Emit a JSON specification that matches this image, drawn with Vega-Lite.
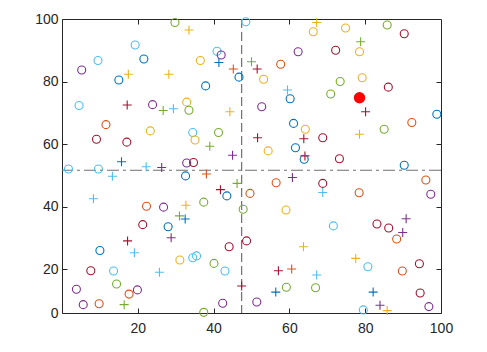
{
  "$schema": "https://vega.github.io/schema/vega-lite/v6.json",
  "width": 379,
  "height": 294,
  "autosize": {"type": "none"},
  "padding": {"left": 62, "top": 19, "right": 46, "bottom": 39},
  "background": "white",
  "config": {
    "view": {"stroke": "#262626", "strokeWidth": 1},
    "axis": {
      "domain": false,
      "grid": false,
      "tickColor": "#262626",
      "tickSize": -5,
      "tickWidth": 1,
      "labelFont": "Liberation Sans",
      "labelFontSize": 14,
      "labelColor": "#262626",
      "labelFlush": false,
      "labelOverlap": false,
      "title": null
    }
  },
  "datasets": {
    "pts": [
      {"x": 29.8, "y": 98.9, "g": "E", "m": "o"},
      {"x": 33.5, "y": 96.5, "g": "C", "m": "+"},
      {"x": 48.5, "y": 99.1, "g": "F", "m": "o"},
      {"x": 19.3, "y": 91.7, "g": "F", "m": "o"},
      {"x": 9.5, "y": 86.7, "g": "F", "m": "o"},
      {"x": 5.2, "y": 83.7, "g": "D", "m": "o"},
      {"x": 21.6, "y": 87.2, "g": "A", "m": "o"},
      {"x": 36.5, "y": 86.7, "g": "C", "m": "o"},
      {"x": 40.9, "y": 89.7, "g": "F", "m": "o"},
      {"x": 42.0, "y": 88.5, "g": "D", "m": "o"},
      {"x": 41.4, "y": 86.1, "g": "A", "m": "+"},
      {"x": 45.2, "y": 84.0, "g": "B", "m": "+"},
      {"x": 46.7, "y": 81.4, "g": "A", "m": "o"},
      {"x": 15.0, "y": 80.5, "g": "A", "m": "o"},
      {"x": 17.5, "y": 82.3, "g": "C", "m": "+"},
      {"x": 28.2, "y": 82.3, "g": "C", "m": "+"},
      {"x": 37.9, "y": 78.6, "g": "A", "m": "o"},
      {"x": 4.5, "y": 72.3, "g": "F", "m": "o"},
      {"x": 17.2, "y": 72.5, "g": "G", "m": "+"},
      {"x": 23.9, "y": 72.6, "g": "D", "m": "o"},
      {"x": 26.7, "y": 70.7, "g": "E", "m": "+"},
      {"x": 29.4, "y": 71.3, "g": "F", "m": "+"},
      {"x": 32.9, "y": 73.4, "g": "C", "m": "o"},
      {"x": 33.5, "y": 70.8, "g": "E", "m": "o"},
      {"x": 44.3, "y": 70.3, "g": "C", "m": "+"},
      {"x": 11.6, "y": 66.2, "g": "B", "m": "o"},
      {"x": 9.1, "y": 61.5, "g": "G", "m": "o"},
      {"x": 17.1, "y": 60.6, "g": "G", "m": "o"},
      {"x": 23.3, "y": 64.2, "g": "C", "m": "o"},
      {"x": 34.5, "y": 63.7, "g": "F", "m": "o"},
      {"x": 35.1, "y": 61.3, "g": "C", "m": "o"},
      {"x": 41.3, "y": 63.7, "g": "E", "m": "o"},
      {"x": 39.0, "y": 59.3, "g": "E", "m": "+"},
      {"x": 45.0, "y": 56.4, "g": "D", "m": "+"},
      {"x": 15.7, "y": 54.3, "g": "A", "m": "+"},
      {"x": 32.9, "y": 53.9, "g": "D", "m": "o"},
      {"x": 34.7, "y": 54.1, "g": "G", "m": "o"},
      {"x": 1.7, "y": 52.0, "g": "F", "m": "o"},
      {"x": 9.6, "y": 52.0, "g": "F", "m": "o"},
      {"x": 22.2, "y": 52.7, "g": "F", "m": "+"},
      {"x": 26.3, "y": 52.5, "g": "D", "m": "+"},
      {"x": 13.3, "y": 49.7, "g": "F", "m": "+"},
      {"x": 32.6, "y": 49.8, "g": "A", "m": "o"},
      {"x": 38.1, "y": 50.4, "g": "B", "m": "+"},
      {"x": 46.2, "y": 47.4, "g": "E", "m": "+"},
      {"x": 67.2, "y": 98.9, "g": "C", "m": "+"},
      {"x": 66.3, "y": 95.9, "g": "C", "m": "o"},
      {"x": 74.8, "y": 97.1, "g": "C", "m": "o"},
      {"x": 85.8, "y": 98.1, "g": "E", "m": "o"},
      {"x": 90.3, "y": 95.3, "g": "G", "m": "o"},
      {"x": 78.8, "y": 92.7, "g": "E", "m": "+"},
      {"x": 78.5, "y": 89.5, "g": "C", "m": "o"},
      {"x": 62.3, "y": 89.5, "g": "D", "m": "o"},
      {"x": 72.2, "y": 90.0, "g": "G", "m": "o"},
      {"x": 50.0, "y": 86.3, "g": "E", "m": "+"},
      {"x": 51.5, "y": 84.0, "g": "G", "m": "+"},
      {"x": 57.7, "y": 85.5, "g": "B", "m": "o"},
      {"x": 53.2, "y": 80.7, "g": "C", "m": "o"},
      {"x": 73.4, "y": 80.0, "g": "E", "m": "o"},
      {"x": 79.2, "y": 81.2, "g": "C", "m": "o"},
      {"x": 86.1, "y": 78.2, "g": "G", "m": "o"},
      {"x": 59.5, "y": 77.3, "g": "F", "m": "+"},
      {"x": 60.2, "y": 74.5, "g": "A", "m": "o"},
      {"x": 70.9, "y": 76.0, "g": "E", "m": "o"},
      {"x": 52.7, "y": 71.9, "g": "D", "m": "o"},
      {"x": 80.1, "y": 70.3, "g": "G", "m": "+"},
      {"x": 98.9, "y": 69.5, "g": "A", "m": "o"},
      {"x": 92.3, "y": 66.9, "g": "B", "m": "o"},
      {"x": 61.1, "y": 66.6, "g": "A", "m": "o"},
      {"x": 64.2, "y": 64.7, "g": "C", "m": "o"},
      {"x": 85.0, "y": 64.7, "g": "E", "m": "o"},
      {"x": 51.6, "y": 62.0, "g": "G", "m": "+"},
      {"x": 63.8, "y": 61.7, "g": "G", "m": "+"},
      {"x": 68.8, "y": 62.0, "g": "G", "m": "o"},
      {"x": 78.5, "y": 63.1, "g": "C", "m": "+"},
      {"x": 54.4, "y": 57.8, "g": "C", "m": "o"},
      {"x": 61.6, "y": 58.8, "g": "A", "m": "o"},
      {"x": 64.1, "y": 56.2, "g": "G", "m": "+"},
      {"x": 63.9, "y": 55.1, "g": "A", "m": "o"},
      {"x": 73.2, "y": 55.3, "g": "G", "m": "o"},
      {"x": 90.3, "y": 53.2, "g": "A", "m": "o"},
      {"x": 8.3, "y": 42.5, "g": "F", "m": "+"},
      {"x": 41.8, "y": 45.4, "g": "G", "m": "+"},
      {"x": 43.5, "y": 43.4, "g": "A", "m": "o"},
      {"x": 32.7, "y": 40.4, "g": "C", "m": "+"},
      {"x": 37.4, "y": 41.4, "g": "E", "m": "o"},
      {"x": 22.3, "y": 40.1, "g": "B", "m": "o"},
      {"x": 26.8, "y": 39.8, "g": "D", "m": "o"},
      {"x": 47.8, "y": 39.1, "g": "E", "m": "o"},
      {"x": 21.3, "y": 34.2, "g": "G", "m": "o"},
      {"x": 28.0, "y": 33.5, "g": "A", "m": "o"},
      {"x": 31.0, "y": 37.0, "g": "E", "m": "+"},
      {"x": 32.5, "y": 36.0, "g": "A", "m": "+"},
      {"x": 17.3, "y": 29.0, "g": "G", "m": "+"},
      {"x": 28.8, "y": 30.0, "g": "D", "m": "+"},
      {"x": 48.7, "y": 29.0, "g": "G", "m": "o"},
      {"x": 10.0, "y": 25.9, "g": "A", "m": "o"},
      {"x": 19.1, "y": 25.2, "g": "F", "m": "+"},
      {"x": 44.1, "y": 27.1, "g": "G", "m": "o"},
      {"x": 31.1, "y": 22.9, "g": "C", "m": "o"},
      {"x": 34.5, "y": 23.6, "g": "F", "m": "o"},
      {"x": 35.5, "y": 24.2, "g": "F", "m": "o"},
      {"x": 40.1, "y": 21.8, "g": "E", "m": "o"},
      {"x": 7.6, "y": 19.2, "g": "G", "m": "o"},
      {"x": 13.6, "y": 19.1, "g": "F", "m": "o"},
      {"x": 25.7, "y": 18.5, "g": "F", "m": "+"},
      {"x": 43.0, "y": 19.1, "g": "F", "m": "o"},
      {"x": 14.4, "y": 13.2, "g": "E", "m": "o"},
      {"x": 3.8, "y": 10.8, "g": "D", "m": "o"},
      {"x": 17.7, "y": 8.6, "g": "B", "m": "o"},
      {"x": 19.9, "y": 10.5, "g": "D", "m": "o"},
      {"x": 47.4, "y": 12.3, "g": "G", "m": "+"},
      {"x": 5.6, "y": 3.8, "g": "D", "m": "o"},
      {"x": 9.8, "y": 4.2, "g": "B", "m": "o"},
      {"x": 16.4, "y": 3.8, "g": "E", "m": "+"},
      {"x": 37.4, "y": 0.3, "g": "E", "m": "o"},
      {"x": 42.4, "y": 4.4, "g": "D", "m": "o"},
      {"x": 49.6, "y": 44.2, "g": "B", "m": "o"},
      {"x": 60.8, "y": 49.3, "g": "D", "m": "+"},
      {"x": 56.5, "y": 47.6, "g": "B", "m": "o"},
      {"x": 68.8, "y": 47.4, "g": "G", "m": "o"},
      {"x": 68.8, "y": 44.5, "g": "F", "m": "+"},
      {"x": 78.4, "y": 44.4, "g": "B", "m": "o"},
      {"x": 96.0, "y": 48.5, "g": "B", "m": "o"},
      {"x": 97.3, "y": 43.9, "g": "D", "m": "o"},
      {"x": 59.1, "y": 38.9, "g": "C", "m": "o"},
      {"x": 71.6, "y": 33.8, "g": "F", "m": "o"},
      {"x": 83.1, "y": 34.4, "g": "G", "m": "o"},
      {"x": 86.2, "y": 33.1, "g": "G", "m": "o"},
      {"x": 90.8, "y": 36.1, "g": "D", "m": "+"},
      {"x": 89.9, "y": 31.7, "g": "D", "m": "+"},
      {"x": 88.3, "y": 29.6, "g": "B", "m": "o"},
      {"x": 63.7, "y": 27.1, "g": "C", "m": "+"},
      {"x": 77.5, "y": 23.4, "g": "C", "m": "+"},
      {"x": 80.7, "y": 20.7, "g": "F", "m": "o"},
      {"x": 57.1, "y": 19.2, "g": "G", "m": "+"},
      {"x": 60.6, "y": 20.0, "g": "B", "m": "+"},
      {"x": 67.2, "y": 17.3, "g": "F", "m": "+"},
      {"x": 89.8, "y": 19.1, "g": "B", "m": "o"},
      {"x": 94.3, "y": 21.7, "g": "G", "m": "o"},
      {"x": 56.4, "y": 9.5, "g": "A", "m": "+"},
      {"x": 59.2, "y": 11.7, "g": "E", "m": "o"},
      {"x": 66.9, "y": 11.5, "g": "E", "m": "o"},
      {"x": 82.1, "y": 9.5, "g": "A", "m": "+"},
      {"x": 94.5, "y": 9.1, "g": "G", "m": "o"},
      {"x": 51.4, "y": 5.0, "g": "D", "m": "o"},
      {"x": 79.5, "y": 1.4, "g": "F", "m": "o"},
      {"x": 83.9, "y": 3.5, "g": "D", "m": "+"},
      {"x": 85.8, "y": 1.1, "g": "C", "m": "+"},
      {"x": 96.8, "y": 2.9, "g": "D", "m": "o"}
    ],
    "target": [{"x": 78.5, "y": 74.8}],
    "vline": [{"x": 47.4}],
    "hline": [{"y": 51.6}]
  },
  "resolve": {"axis": {"x": "independent", "y": "independent"}},
  "layer": [
    {
      "data": {"name": "vline"},
      "mark": {"type": "rule", "color": "#707070", "strokeWidth": 1.2, "strokeDash": [9, 4]},
      "encoding": {
        "x": {"field": "x", "type": "quantitative", "scale": {"domain": [0, 100], "nice": false, "zero": false}, "axis": null}
      }
    },
    {
      "data": {"name": "hline"},
      "mark": {"type": "rule", "color": "#707070", "strokeWidth": 1.2, "strokeDash": [12, 4, 3, 4]},
      "encoding": {
        "y": {"field": "y", "type": "quantitative", "scale": {"domain": [0, 20, 100], "range": [294, 250, 0], "nice": false, "zero": false}, "axis": null}
      }
    },
    {
      "data": {"name": "pts"},
      "mark": {"type": "point", "filled": false, "strokeWidth": 1.1, "opacity": 1},
      "encoding": {
        "x": {"field": "x", "type": "quantitative", "scale": {"domain": [0, 100], "nice": false, "zero": false},
              "axis": {"orient": "bottom", "values": [20, 40, 60, 80, 100], "labelPadding": 13}},
        "y": {"field": "y", "type": "quantitative", "scale": {"domain": [0, 20, 100], "range": [294, 250, 0], "nice": false, "zero": false},
              "axis": {"orient": "left", "values": [0, 20, 40, 60, 80, 100], "labelPadding": 9}},
        "color": {"field": "g", "type": "nominal", "legend": null,
                  "scale": {"domain": ["A", "B", "C", "D", "E", "F", "G"],
                            "range": ["#0072BD", "#D95319", "#EDB120", "#7E2F8E", "#77AC30", "#4DBEEE", "#A2142F"]}},
        "shape": {"field": "m", "type": "nominal", "legend": null,
                  "scale": {"domain": ["o", "+"], "range": ["circle", "M-1,0L1,0M0,-1L0,1"]}},
        "size": {"field": "m", "type": "nominal", "legend": null,
                 "scale": {"domain": ["o", "+"], "range": [64, 81]}}
      }
    },
    {
      "data": {"name": "target"},
      "mark": {"type": "point", "shape": "circle", "filled": true, "color": "#FF0000", "size": 130, "opacity": 1},
      "encoding": {
        "x": {"field": "x", "type": "quantitative", "scale": {"domain": [0, 100], "nice": false, "zero": false},
              "axis": {"orient": "top", "values": [20, 40, 60, 80], "labels": false}},
        "y": {"field": "y", "type": "quantitative", "scale": {"domain": [0, 20, 100], "range": [294, 250, 0], "nice": false, "zero": false},
              "axis": {"orient": "right", "values": [20, 40, 60, 80], "labels": false}}
      }
    }
  ]
}
